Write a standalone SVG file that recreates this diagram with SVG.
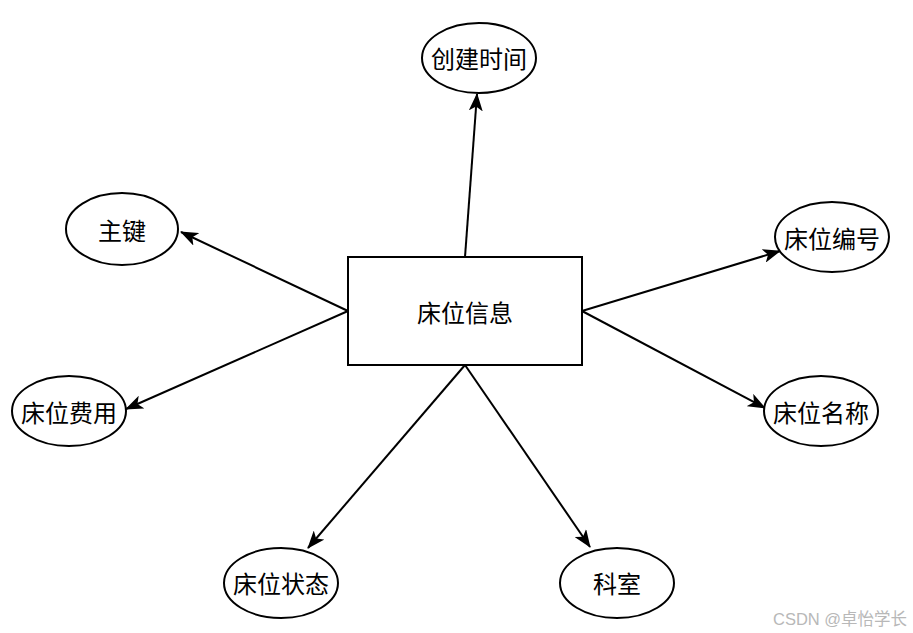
<svg xmlns="http://www.w3.org/2000/svg" width="913" height="633" viewBox="0 0 913 633">
<style>
.shape{fill:#fff;stroke:#000;stroke-width:2}
.lbl{font-family:"Noto Sans CJK SC","Liberation Sans",sans-serif;font-size:24px;fill:#000;text-anchor:middle;dominant-baseline:central}
.edge{stroke:#000;stroke-width:2;fill:none;marker-end:url(#arr)}
.wm{font-family:"Liberation Sans","Noto Sans CJK SC",sans-serif;font-size:16.5px;fill:#b8b8b8}
</style>
<defs>
<marker id="arr" viewBox="0 0 18 14" markerWidth="18" markerHeight="14" refX="17" refY="7" orient="auto" markerUnits="userSpaceOnUse">
<path d="M0,0 L18,7 L0,14 L4.5,7 z" fill="#000"/>
</marker>
</defs>
<rect width="913" height="633" fill="#fff"/>
<g id="edges">
<line class="edge" x1="465" y1="257" x2="477" y2="94"/>
<line class="edge" x1="348" y1="311" x2="181" y2="232"/>
<line class="edge" x1="582" y1="311" x2="780" y2="251"/>
<line class="edge" x1="348" y1="311" x2="126" y2="409"/>
<line class="edge" x1="582" y1="311" x2="765" y2="408"/>
<line class="edge" x1="465" y1="365" x2="308" y2="548"/>
<line class="edge" x1="465" y1="365" x2="590" y2="547"/>
</g>
<g id="node-main"><rect class="shape" x="348" y="257" width="234" height="108"/><text class="lbl" x="465" y="311">床位信息</text></g>
<g id="node-time"><ellipse class="shape" cx="479" cy="58" rx="57" ry="35"/><text class="lbl" x="479" y="57">创建时间</text></g>
<g id="node-key"><ellipse class="shape" cx="122" cy="229" rx="56" ry="36"/><text class="lbl" x="122" y="229">主键</text></g>
<g id="node-no"><ellipse class="shape" cx="832" cy="237" rx="57" ry="35"/><text class="lbl" x="832" y="237">床位编号</text></g>
<g id="node-fee"><ellipse class="shape" cx="69" cy="411" rx="57" ry="35"/><text class="lbl" x="69" y="411">床位费用</text></g>
<g id="node-name"><ellipse class="shape" cx="821" cy="411" rx="57" ry="35"/><text class="lbl" x="821" y="411">床位名称</text></g>
<g id="node-state"><ellipse class="shape" cx="281" cy="583" rx="57" ry="35"/><text class="lbl" x="281" y="582">床位状态</text></g>
<g id="node-dept"><ellipse class="shape" cx="617" cy="583" rx="57" ry="35"/><text class="lbl" x="617" y="582">科室</text></g>
<text class="wm" x="773" y="625">CSDN @卓怡学长</text>
</svg>
